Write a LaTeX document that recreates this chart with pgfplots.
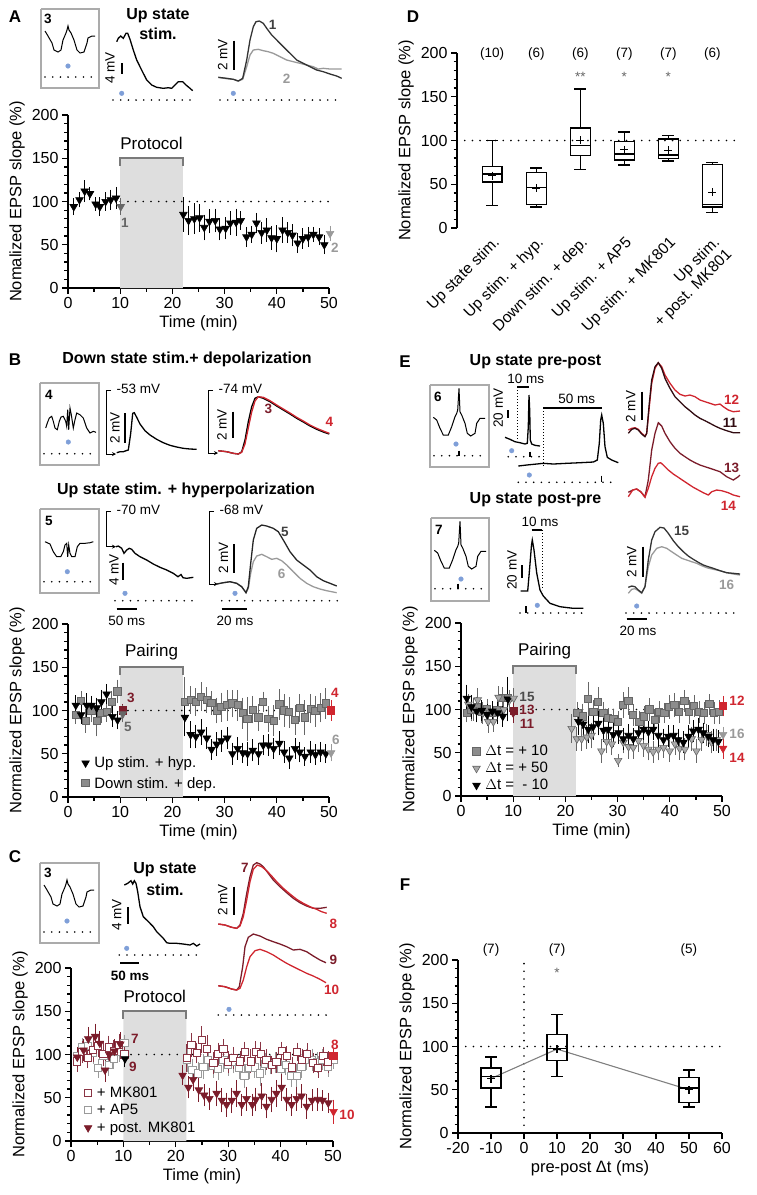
\documentclass[border=0pt]{standalone}
\usepackage{fontspec}
\setmainfont{Liberation Sans}
\usepackage{pgfplots}
\usepackage{pgfplotstable}
\pgfplotsset{compat=1.18}
\usepgfplotslibrary{statistics}
\usetikzlibrary{arrows.meta}

\definecolor{dred}{HTML}{7B1C2A}
\definecolor{lred}{HTML}{D0262F}
\definecolor{mkred}{HTML}{8A3444}
\definecolor{mgray}{HTML}{666666}
\definecolor{lgray}{HTML}{9A9A9A}
\definecolor{sqgray}{HTML}{8C8C8C}
\definecolor{trgray}{HTML}{AAAAAA}
\definecolor{shade}{HTML}{DEDEDE}
\definecolor{brk}{HTML}{7A7A7A}
\definecolor{dotblue}{HTML}{7F9FD8}
\definecolor{boxgray}{HTML}{ABABAB}

\newcommand\ftick{\fontsize{16}{18}\selectfont}
\newcommand\flab{\fontsize{16.5}{19}\selectfont}
\newcommand\fleg{\fontsize{15}{17}\selectfont}
\newcommand\fsm{\fontsize{13.5}{15}\selectfont}
\newcommand\fnum{\fontsize{13.5}{15}\selectfont\bfseries}
\newcommand\fttl{\fontsize{16}{19}\selectfont\bfseries}
\newcommand\fprot{\fontsize{17}{19}\selectfont}
\newcommand\fpan{\fontsize{17}{19}\selectfont\bfseries}

\pgfplotsset{
  base/.style={scale only axis, clip=false,
    axis x line*=bottom, axis y line*=left,
    axis line style={-, line width=1.6pt},
    tick align=outside, major tick length=6pt, minor tick length=3.5pt,
    every tick/.style={black, line width=1.3pt},
    tick label style={font=\ftick}, label style={font=\flab},
    /pgf/number format/assume math mode=true,
    ymin=0, ymax=200, ytick={0,50,...,200}, minor ytick={10,20,...,190}},
  tc/.style={base, width=261pt, height=173pt, xmin=0, xmax=50,
    xtick={0,10,...,50}, minor xtick={5,15,...,45}, xlabel={Time (min)},
    legend style={draw=none, fill=none, font=\fleg, inner sep=0pt, row sep=0pt,
      /tikz/every odd column/.append style={column sep=3pt}},
    legend cell align=left},
  eb/.style={/pgfplots/error bars/y dir=both, /pgfplots/error bars/y explicit,
    /pgfplots/error bars/error bar style={line width=1pt, color=#1},
    /pgfplots/error bars/error mark options={mark size=3.3pt, line width=1pt, color=#1}},
  tri/.style 2 args={only marks, mark=triangle*, mark size=4.4pt,
    mark options={rotate=180, fill=#1, draw=#2, line width=0.6pt}, color=#2, eb=#2},
  sq/.style 2 args={only marks, mark=square*, mark size=3.6pt,
    mark options={fill=#1, draw=#2, line width=1pt}, color=#2, eb=#2},
  ltri/.style 2 args={only marks, mark=triangle*, mark size=4.4pt,
    mark options={rotate=180, fill=#1, draw=#2, line width=0.6pt}},
  lsq/.style 2 args={only marks, mark=square*, mark size=3.6pt,
    mark options={fill=#1, draw=#2, line width=1pt}},
  dotline/.style={black, line width=1.8pt, dash pattern=on 0pt off 7.7pt, line cap=round},
  bdot/.style={only marks, mark=*, mark size=2.3pt, color=dotblue},
  tr/.style={line width=1.3pt, #1},
  bar/.style={black, line width=2pt},
  bx/.style={boxgray, line width=1.5pt},
  bp/.style={black, line width=1.3pt, boxplot/draw direction=y},
}

% ---------- data ----------
\pgfplotstableread{
t v e
1.1 94 6
2.2 102 5
3.2 112 9
4.2 109 4
5.3 97 4
6.1 94 7
7.2 100 7
8.2 102 8
9.2 104 9
22.1 85 16
23.1 78 13
24.2 80 14
25.2 81 12
26.1 70 11
27.1 77 10
28.2 78 10
29.1 68 9
30.2 69 9
31.1 75 10
32.2 76 12
33.1 78 7
34.2 59 8
35.2 62 6
36.1 75 8
37.1 64 9
38.1 67 10
39.0 58 10
40.0 57 12
41.1 67 11
42.1 64 8
43.0 61 9
44.0 52 8
45.0 57 8
46.0 59 8
47.0 62 5
48.1 59 6
49.1 50 7
}\dataA

\pgfplotstableread{
t v e
1.5 106 8
2.5 95 7
3.6 106 10
4.5 106 7
5.5 103 8
6.4 110 10
7.4 119 8
8.5 93 8
9.5 89 7
22.4 92 18
23.5 72 12
24.5 70 10
25.5 75 11
26.6 68 9
27.5 55 8
28.5 61 10
29.4 65 9
30.5 68 9
31.5 50 9
32.5 56 9
33.5 51 8
34.4 50 10
35.4 54 9
36.5 50 9
37.4 60 8
38.4 60 9
39.4 56 8
40.5 62 10
41.4 52 9
42.4 45 9
43.5 56 8
44.4 52 8
45.4 47 7
46.5 52 9
47.4 49 8
48.4 52 8
49.4 50 7
}\dataBhyp

\pgfplotstableread{
t v e
1.5 95 7
2.5 111 8
3.4 88 10
4.5 99 9
5.5 88 14
6.4 97 8
7.4 98 7
8.4 110 9
9.5 122 10
22.4 110 25
23.5 112 12
24.5 110 12
25.5 116 13
26.6 112 11
27.5 109 10
28.5 100 11
29.4 104 13
30.5 106 14
31.5 108 12
32.5 106 14
33.5 97 14
34.4 90 22
35.4 101 12
36.5 92 12
37.4 110 8
38.4 90 11
39.4 88 14
40.5 107 14
41.4 100 15
42.4 98 14
43.5 89 13
44.4 103 12
45.4 92 16
46.5 102 13
47.4 99 14
48.4 103 13
49.4 108 14
}\dataBdep

\pgfplotstableread{
t v e
1.2 92 8
2.2 103 9
3.2 96 8
4.2 105 10
5.2 110 9
6.2 101 11
7.2 108 10
8.2 104 9
9.2 111 9
22.1 96 12
23.0 111 10
24.0 102 8
25.0 117 12
26.0 106 13
27.2 90 9
28.1 101 9
29.1 106 8
30.0 91 9
31.0 96 9
32.3 92 8
33.2 103 8
34.3 92 10
35.3 103 9
36.2 101 10
37.3 94 8
38.3 88 7
39.2 91 8
40.2 104 7
41.2 98 8
42.2 85 8
43.2 103 7
44.1 94 9
45.1 101 8
46.2 90 8
47.2 84 7
48.2 98 7
49.1 91 9
}\dataCmk

\pgfplotstableread{
t v e
1.2 98 6
2.2 108 7
3.2 110 8
4.2 102 9
5.2 84 7
6.2 98 8
7.2 88 9
8.2 95 8
9.2 103 8
10.2 113 6
22.2 94 10
23.2 82 9
24.3 78 10
25.3 86 11
26.2 94 9
27.2 87 10
28.1 83 9
29.1 94 10
30.0 88 9
31.0 91 9
32.1 85 10
33.1 75 10
34.0 84 9
35.1 85 8
36.1 78 11
37.1 89 9
38.1 89 8
39.1 91 8
40.1 83 9
41.0 88 8
42.0 75 9
43.1 75 10
44.0 86 9
45.0 94 8
46.0 94 9
47.0 91 8
48.0 94 8
49.1 86 8
50.1 94 7
}\dataCap

\pgfplotstableread{
t v e
1.2 97 8
2.4 105 9
3.3 118 10
4.6 121 11
5.5 113 10
6.5 82 10
7.3 100 9
8.3 104 10
9.4 112 10
21.3 76 8
22.4 62 9
23.3 71 9
24.4 59 10
25.4 53 9
26.4 49 9
27.8 55 11
28.8 47 10
29.7 42 10
30.7 47 11
31.6 55 12
32.6 42 9
33.5 49 10
34.6 42 9
35.3 48 10
36.4 52 11
37.3 40 10
38.3 48 11
39.2 55 12
40.2 62 12
41.2 48 10
42.1 42 9
43.1 49 10
44.0 52 10
45.0 40 11
46.0 47 9
47.1 48 9
48.0 47 8
49.1 44 8
}\dataCpost

\pgfplotstableread{
t v e
1.1 96 7
2.0 100 10
3.0 103 8
4.0 97 9
5.0 100 8
6.0 96 7
7.0 99 8
8.0 113 9
9.0 113 8
22.3 96 9
23.3 92 11
24.4 112 16
25.4 97 10
26.3 109 13
27.3 96 9
28.2 90 8
29.2 89 8
30.1 86 8
31.1 105 11
32.1 110 12
33.0 94 9
34.2 86 9
35.1 92 8
36.1 100 9
37.1 88 9
38.0 97 9
39.0 96 8
39.9 103 10
40.9 105 10
41.8 97 9
42.8 110 9
43.7 97 10
44.7 104 9
45.6 97 9
46.6 96 9
47.6 106 8
48.5 96 9
49.5 97 10
}\dataEten

\pgfplotstableread{
t v e
1.4 106 8
2.3 100 9
3.2 111 10
4.2 96 9
5.2 86 9
6.2 86 8
7.2 114 9
8.2 100 8
9.2 110 9
21.2 78 13
22.2 66 10
23.1 66 10
24.1 68 10
25.0 70 11
26.9 52 10
27.9 63 10
28.9 60 9
30.1 41 4
31.1 62 9
32.1 57 10
33.0 56 9
34.0 64 9
35.0 58 9
35.9 54 9
36.8 51 9
37.8 54 9
38.8 56 8
40.0 52 9
41.0 60 9
41.9 55 9
42.9 54 9
44.2 66 10
45.1 52 10
46.1 65 9
47.1 71 9
48.0 62 9
49.0 65 9
}\dataEfifty

\pgfplotstableread{
t v e
1.1 113 12
2.0 103 10
3.0 98 9
4.0 99 8
5.0 94 9
6.0 98 8
7.0 96 9
8.0 92 8
9.0 112 22
22.5 86 12
23.4 83 10
24.4 77 12
25.3 80 11
26.3 84 10
27.3 76 10
28.2 77 9
29.2 71 10
30.2 73 9
31.1 66 9
32.1 70 9
33.0 66 9
34.0 73 10
35.0 77 9
35.9 74 9
36.8 77 9
37.8 70 9
38.8 65 9
39.7 69 9
40.7 70 8
41.6 65 9
42.6 62 9
43.6 69 9
44.5 75 9
45.5 77 9
46.4 73 8
47.4 69 9
48.3 65 9
49.3 63 9
}\dataEminus

% inset waveforms (pixels, relative to the inset box)
\pgfplotstableread{
x y
4 22
7 27
11 34
13 41
17 43
20 41
22 31
25 24
26 21
27 17
28 21
30 24
33 31
36 41
39 44
43 43
46 34
47 29
51 27
54 27
}\wUp

\pgfplotstableread{
x y
3.3 32.3
6.7 35
10 43.3
13.3 50
18.3 50
21.7 41.7
25 31.7
26.7 28.3
27.7 25
29 3.3
30 26.7
31.7 30
35 38.3
37.3 48.3
40.7 51
45 48.3
46.7 38.3
50 33.3
55 33.3
}\wSpike

\pgfplotstableread{
x y
5.7 45
7.3 40
9.3 35
11.7 33.3
13.3 38.3
15 45
17.3 46.7
19.3 38.3
21 34
23.3 33.3
25.7 38.3
26.7 43.3
27.7 26.7
28.7 46.7
30 25
31.3 31.7
33.3 45
35 36.7
36.7 30
40 31.7
43.3 35
46.7 45
50 50
53.3 48.3
56 49.3
}\wDep

\pgfplotstableread{
x y
5 32.7
10 35
13.3 42.7
16.7 47.7
20.7 47.7
23.3 42.7
25 36
26.7 34.3
27.7 47.7
28.7 36
30 44.3
31.7 47.7
35 47.7
37.3 37.7
40 34.3
45 34.3
50 33.7
53.3 32.7
}\wHyp

\begin{document}
\begin{tikzpicture}
\path[use as bounding box] (0pt,0pt) rectangle (757pt,-1195pt);

% ================= A =================
\begin{axis}[tc, at={(68pt,-288pt)}, anchor=south west,
  ylabel={Nomalized EPSP slope (\%)}]
\addplot[fill=shade, draw=none] coordinates {(10,0)(10,150)(22,150)(22,0)} \closedcycle;
\addplot[brk, line width=2pt] coordinates {(10,141)(10,150)(22,150)(22,141)};
\addplot[dotline] coordinates {(10,100)(50,100)};
\node[font=\fprot] at (axis cs:16,167) {Protocol};
\addplot[tri={black}{black}] table[x=t, y=v, y error=e]{\dataA};
\addplot[tri={mgray}{mgray}] coordinates {(10.1,94) +- (0,6)};
\addplot[tri={lgray}{lgray}] coordinates {(50.2,63) +- (0,5)};
\end{axis}

% ================= B =================
\begin{axis}[tc, at={(68pt,-797pt)}, anchor=south west,
  ylabel={Normalized EPSP slope (\%)},
  legend style={at={(axis cs:2.6,49)}, anchor=north west, row sep=4pt}]
\addlegendimage{ltri={black}{black}}
\addlegendentry{Up stim. + hyp.}
\addlegendimage{lsq={sqgray}{mgray}}
\addlegendentry{Down stim. + dep.}
\addplot[fill=shade, draw=none, forget plot] coordinates {(10,0)(10,150)(22,150)(22,0)} \closedcycle;
\addplot[brk, line width=2pt, forget plot] coordinates {(10,141)(10,150)(22,150)(22,141)};
\addplot[dotline, forget plot] coordinates {(10,100)(50,100)};
\node[font=\fprot] at (axis cs:16,167) {Pairing};
\addplot[sq={sqgray}{mgray}, forget plot] table[x=t, y=v, y error=e]{\dataBdep};
\addplot[tri={black}{black}, forget plot] table[x=t, y=v, y error=e]{\dataBhyp};
\addplot[sq={dred}{dred}, forget plot] coordinates {(10.5,100) +- (0,4)};
\addplot[tri={mgray}{mgray}, forget plot] coordinates {(10.5,96) +- (0,6)};
\addplot[sq={lred}{lred}, forget plot] coordinates {(50.4,100) +- (0,8)};
\addplot[tri={lgray}{lgray}, forget plot] coordinates {(50.4,51) +- (0,6)};
\end{axis}

% ================= C =================
\begin{axis}[tc, at={(71pt,-1141pt)}, anchor=south west, width=262pt,
  ylabel={Normalized EPSP slope (\%)},
  legend style={at={(axis cs:2.5,65)}, anchor=north west, row sep=1.5pt}]
\addlegendimage{lsq={white}{mkred}}
\addlegendentry{+ MK801}
\addlegendimage{lsq={white}{lgray}}
\addlegendentry{+ AP5}
\addlegendimage{ltri={dred}{dred}}
\addlegendentry{+ post. MK801}
\addplot[fill=shade, draw=none, forget plot] coordinates {(10,0)(10,150)(22,150)(22,0)} \closedcycle;
\addplot[brk, line width=2pt, forget plot] coordinates {(10,141)(10,150)(22,150)(22,141)};
\addplot[dotline, forget plot] coordinates {(10,100)(50,100)};
\node[font=\fprot] at (axis cs:16,167) {Protocol};
\addplot[sq={white}{lgray}, forget plot] table[x=t, y=v, y error=e]{\dataCap};
\addplot[sq={white}{mkred}, forget plot] table[x=t, y=v, y error=e]{\dataCmk};
\addplot[tri={dred}{dred}, forget plot] table[x=t, y=v, y error=e]{\dataCpost};
\addplot[sq={white}{mkred}, forget plot] coordinates {(10.2,100) +- (0,6)};
\addplot[tri={black}{black}, forget plot] coordinates {(10.3,95) +- (0,6)};
\addplot[sq={lred}{lred}, forget plot] coordinates {(50.1,98) +- (0,4)};
\addplot[tri={lred}{lred}, forget plot] coordinates {(50.1,34) +- (0,10)};
\end{axis}

% ================= D =================
\begin{axis}[base, at={(457pt,-228pt)}, anchor=south west, width=284pt, height=175pt,
  xmin=0.2, xmax=6.65, xtick={1,...,6},
  xticklabels={Up state stim., Up stim. + hyp., Down stim. + dep., Up stim. + AP5, Up stim. + MK801, {Up stim.\\+ post. MK801}},
  xticklabel style={rotate=45, anchor=north east, align=right, font=\fontsize{15.5}{17}\selectfont, inner sep=1pt},
  x axis line style={draw=none}, major x tick style={draw=none},
  ylabel={Nomalized EPSP slope (\%)}]
\addplot[dotline] coordinates {(0.2,100)(6.65,100)};
\addplot[bp, boxplot prepared={draw position=1, lower whisker=26, lower quartile=52.6, median=61.7, upper quartile=70.5, upper whisker=100, box extend=0.45, whisker extend=0.27}] coordinates {};
\addplot[bp, boxplot prepared={draw position=2, lower whisker=24, lower quartile=26.7, median=46.5, upper quartile=63.6, upper whisker=68.6, box extend=0.45, whisker extend=0.27}] coordinates {};
\addplot[bp, boxplot prepared={draw position=3, lower whisker=66.7, lower quartile=82.7, median=94.5, upper quartile=114.3, upper whisker=158.9, box extend=0.45, whisker extend=0.27}] coordinates {};
\addplot[bp, boxplot prepared={draw position=4, lower whisker=72, lower quartile=77.7, median=84.6, upper quartile=99, upper whisker=109.7, box extend=0.45, whisker extend=0.27}] coordinates {};
\addplot[bp, boxplot prepared={draw position=5, lower whisker=76.6, lower quartile=79.6, median=83.4, upper quartile=101.7, upper whisker=105.5, box extend=0.45, whisker extend=0.27}] coordinates {};
\addplot[bp, boxplot prepared={draw position=6, lower whisker=17.9, lower quartile=24, median=27, upper quartile=72.8, upper whisker=75, box extend=0.45, whisker extend=0.27}] coordinates {};
\addplot[only marks, mark=+, mark size=4pt, black, line width=1.2pt] coordinates {(1,59.8)(2,45.7)(3,100.2)(4,89.5)(5,88.8)(6,40.8)};
\node[font=\fsm] at (axis cs:1,199) {(10)};
\node[font=\fsm] at (axis cs:2,199) {(6)};
\node[font=\fsm] at (axis cs:3,199) {(6)};
\node[font=\fsm] at (axis cs:4,199) {(7)};
\node[font=\fsm] at (axis cs:5,199) {(7)};
\node[font=\fsm] at (axis cs:6,199) {(6)};
\node[font=\fsm, mgray] at (axis cs:3,173) {**};
\node[font=\fsm, mgray] at (axis cs:4,173) {*};
\node[font=\fsm, mgray] at (axis cs:5,173) {*};
\end{axis}

% ================= E =================
\begin{axis}[tc, at={(461pt,-796pt)}, anchor=south west,
  ylabel={Normalized EPSP slope (\%)},
  legend style={at={(axis cs:2.2,61)}, anchor=north west, row sep=1pt}]
\addlegendimage{lsq={sqgray}{mgray}}
\addlegendentry{$\Delta$t = + 10}
\addlegendimage{ltri={trgray}{mgray}}
\addlegendentry{$\Delta$t = + 50}
\addlegendimage{ltri={black}{black}}
\addlegendentry{$\Delta$t =\ \ - 10}
\addplot[fill=shade, draw=none, forget plot] coordinates {(10,0)(10,150)(22,150)(22,0)} \closedcycle;
\addplot[brk, line width=2pt, forget plot] coordinates {(10,141)(10,150)(22,150)(22,141)};
\addplot[dotline, forget plot] coordinates {(10,100)(50,100)};
\node[font=\fprot] at (axis cs:16,167) {Pairing};
\addplot[sq={sqgray}{mgray}, forget plot] table[x=t, y=v, y error=e]{\dataEten};
\addplot[tri={trgray}{mgray}, forget plot] table[x=t, y=v, y error=e]{\dataEfifty};
\addplot[tri={black}{black}, forget plot] table[x=t, y=v, y error=e]{\dataEminus};
\addplot[tri={trgray}{mgray}, forget plot] coordinates {(10.1,113) +- (0,8)};
\addplot[tri={dred}{dred}, forget plot] coordinates {(10,96) +- (0,8)};
\addplot[sq={dred}{dred}, forget plot] coordinates {(10.1,98) +- (0,8)};
\addplot[tri={lgray}{lgray}, forget plot] coordinates {(50.2,71) +- (0,5)};
\addplot[sq={lred}{lred}, forget plot] coordinates {(50.2,104) +- (0,8)};
\addplot[tri={lred}{lred}, forget plot] coordinates {(50.2,55) +- (0,8)};
\end{axis}

% ================= F =================
\begin{axis}[base, at={(458pt,-1133pt)}, anchor=south west, width=264pt, height=173pt,
  xmin=-20, xmax=60, xtick={-20,-10,...,60},
  xlabel={pre-post Δt (ms)}, ylabel={Normalized EPSP slope (\%)}]
\addplot[dotline] coordinates {(-20,100)(60,100)};
\addplot[dotline] coordinates {(0,0)(0,200)};
\addplot[gray, line width=1.1pt] coordinates {(-10,63)(10,97)(50,50)};
\addplot[bp, boxplot prepared={draw position=-10, lower whisker=30, lower quartile=52, median=65, upper quartile=75, upper whisker=88, box extend=6, whisker extend=3.6}] coordinates {};
\addplot[bp, boxplot prepared={draw position=10, lower whisker=65, lower quartile=84, median=98, upper quartile=114, upper whisker=137, box extend=6, whisker extend=3.6}] coordinates {};
\addplot[bp, boxplot prepared={draw position=50, lower whisker=30, lower quartile=35, median=52, upper quartile=64, upper whisker=73, box extend=6, whisker extend=3.6}] coordinates {};
\addplot[only marks, mark=+, mark size=4pt, black, line width=1.2pt] coordinates {(-10,63)(10,97)(50,50)};
\node[font=\fsm] at (axis cs:-10,212) {(7)};
\node[font=\fsm] at (axis cs:10,212) {(7)};
\node[font=\fsm] at (axis cs:50,212) {(5)};
\node[font=\fsm, mgray] at (axis cs:10,185) {*};
\end{axis}

% ================= overlay: traces and annotations (pixel space) =================
\begin{axis}[at={(0pt,0pt)}, anchor=north west, scale only axis, width=757pt, height=1195pt,
  xmin=0, xmax=757, ymin=0, ymax=1195, y dir=reverse, hide axis, clip=false]
% panel letters
\node[font=\fpan] at (axis cs:15,17) {A};
\node[font=\fpan] at (axis cs:413,17) {D};
\node[font=\fpan] at (axis cs:15,360) {B};
\node[font=\fpan] at (axis cs:405,362) {E};
\node[font=\fpan] at (axis cs:15,857) {C};
\node[font=\fpan] at (axis cs:405,885) {F};

% ----- A traces -----
\addplot[bx] coordinates {(41,9)(99,9)(99,88)(41,88)(41,9)};
\node[font=\fnum] at (axis cs:48,19) {3};
\addplot[tr=black, line width=1pt] table[x expr=\thisrow{x}+41, y expr=\thisrow{y}+9]{\wUp};
\addplot[dotline] coordinates {(45,77)(93,77)};
\addplot[bdot] coordinates {(68,66)};
\node[font=\fttl] at (axis cs:158,16) {Up state};
\node[font=\fttl] at (axis cs:158,34) {stim.};
\addplot[tr=black] coordinates {(116.7,41.7)(118.3,38.3)(120.7,36)(123.3,38.3)(126,33.3)(127.7,33.3)(130,39.3)(133.3,50)(136.7,60)(140,66.7)(143.3,73.3)(146.7,80)(151.7,85)(156.7,87.3)(163.3,88.3)(168.3,87.7)(171.7,88.3)(175,85)(178.3,81.7)(182.7,81.7)(186,85)(190,88.3)(192.7,90.7)};
\addplot[bar] coordinates {(121.7,63.3)(121.7,74)};
\node[font=\fsm, rotate=90] at (axis cs:110,68) {4 mV};
\addplot[bdot] coordinates {(121.7,93.3)};
\addplot[dotline] coordinates {(113,100)(193,100)};
\addplot[tr=lgray] coordinates {(218.3,77.3)(226.7,78.7)(233.3,79.3)(238.3,81)(242.7,79.3)(246.7,66.7)(250,55)(253.3,50)(258.3,49.3)(263.3,50.7)(268.3,51.7)(273.3,53.3)(280,56.7)(286.7,60)(293.3,61.7)(300,63.3)(306.7,65)(313.3,66.7)(318.3,69)(323.3,68.3)(330,69)(341.7,69)};
\addplot[tr={black!80}] coordinates {(218.3,77.3)(226.7,78.3)(233.3,79.3)(238.3,81)(242.7,78.3)(246.7,60)(250,40)(253.3,26.7)(256,21.7)(259.3,21)(263.3,23.3)(266.7,28.3)(271.7,35)(276.7,40)(283.3,46.7)(290,53.3)(296.7,60)(303.3,63.3)(310,66.7)(316.7,70)(323.3,71.7)(330,74)(336.7,76)(341.7,78.3)};
\addplot[bar] coordinates {(234,40.7)(234,70)};
\node[font=\fsm, rotate=90] at (axis cs:222.7,55) {2 mV};
\addplot[bdot] coordinates {(233.3,93.3)};
\addplot[dotline] coordinates {(220,100)(338,100)};
\node[font=\fnum, black!75] at (axis cs:272.7,25) {1};
\node[font=\fnum, lgray] at (axis cs:286.7,79) {2};
\node[font=\fnum, mgray] at (axis cs:125,223) {1};
\node[font=\fnum, lgray] at (axis cs:335,248) {2};

% ----- B traces -----
\node[font=\fttl] at (axis cs:187,359) {Down state stim.+ depolarization};
\addplot[bx] coordinates {(40,383)(99,383)(99,465)(40,465)(40,383)};
\node[font=\fnum] at (axis cs:49,395) {4};
\addplot[tr=black, line width=1pt] table[x expr=\thisrow{x}+40, y expr=\thisrow{y}+383]{\wDep};
\addplot[dotline] coordinates {(44,453.7)(93,453.7)};
\addplot[bdot] coordinates {(68.3,442)};
\addplot[black, line width=1pt, -{Stealth[length=4pt,width=4pt]}] coordinates {(111,390)(106,390)(106,454)(116,454)};
\node[font=\fsm, anchor=west] at (axis cs:113,389) {-53 mV};
\addplot[tr=black] coordinates {(116.7,452.7)(120,451.7)(123.3,451.7)(126,450.7)(128.3,450)(130.7,433.3)(132.7,413.3)(134.3,412.7)(136.7,417.3)(140,424)(145,430.7)(150,435)(156.7,439.3)(163.3,442.7)(170,445.3)(176.7,447)(183.3,448.3)(190,449)(196.7,449.3)};
\addplot[bar] coordinates {(125,413.3)(125,442.7)};
\node[font=\fsm, rotate=90] at (axis cs:115,428) {2 mV};
\addplot[black, line width=1pt, -{Stealth[length=4pt,width=4pt]}] coordinates {(213,390)(208.3,390)(208.3,453)(218,453)};
\node[font=\fsm, anchor=west] at (axis cs:215,389) {-74 mV};
\addplot[tr=black] coordinates {(218.3,450.7)(226.7,451.7)(233.3,453.3)(238.3,454)(241.7,451.7)(245,440)(248.3,421.7)(251.7,406.7)(255,398.3)(258.3,396.7)(263.3,398.3)(270,401.7)(276.7,406)(283.3,410)(290,414)(296.7,418.3)(303.3,422)(310,426)(316.7,429.3)(323.3,432)(329.3,434)};
\addplot[tr=lred] coordinates {(218.3,450.7)(226.7,451.7)(233.3,453.3)(238.3,454)(241.7,452.3)(245,444)(248.3,428)(251.7,412)(255,401)(258.3,396.7)(263.3,397.3)(270,400.7)(276.7,405)(283.3,409)(290,413)(296.7,417.3)(303.3,421)(310,425)(316.7,428.3)(323.3,431)(329.3,433.3)};
\addplot[bar] coordinates {(232.7,411.7)(232.7,438.3)};
\node[font=\fsm, rotate=90] at (axis cs:222,425) {2 mV};
\node[font=\fnum, dred] at (axis cs:268.3,409.3) {3};
\node[font=\fnum, lred] at (axis cs:329.3,421.7) {4};

\node[font=\fttl] at (axis cs:186,490) {Up state stim. + hyperpolarization};
\addplot[bx] coordinates {(40,509)(99,509)(99,593)(40,593)(40,509)};
\node[font=\fnum] at (axis cs:49,521) {5};
\addplot[tr=black, line width=1pt] table[x expr=\thisrow{x}+40, y expr=\thisrow{y}+509]{\wHyp};
\addplot[dotline] coordinates {(44,581.7)(93,581.7)};
\addplot[bdot] coordinates {(67.3,571.7)};
\addplot[black, line width=1pt, -{Stealth[length=4pt,width=4pt]}] coordinates {(111,511)(106,511)(106,546.7)(116,546.7)};
\node[font=\fsm, anchor=west] at (axis cs:113,510) {-70 mV};
\addplot[tr=black] coordinates {(116,546.7)(118.3,546)(121.7,548.3)(124,553.3)(126.7,550)(129.3,548.3)(131.7,549.3)(135,553.3)(140,556.7)(146.7,560)(153.3,564)(160,567.3)(166.7,570)(173.3,573.3)(178,576.7)(181,574.5)(183,577.7)(186.7,578.3)(193.3,577.3)};
\addplot[bar] coordinates {(122.7,562.7)(122.7,580)};
\node[font=\fsm, rotate=90] at (axis cs:114,570) {4 mV};
\addplot[bdot] coordinates {(125,593.3)};
\addplot[dotline] coordinates {(115,600.7)(195,600.7)};
\addplot[bar] coordinates {(116.7,609.3)(136.7,609.3)};
\node[font=\fsm] at (axis cs:126.7,621) {50 ms};
\addplot[black, line width=1pt, -{Stealth[length=4pt,width=4pt]}] coordinates {(214,511)(209.3,511)(209.3,584)(218,584)};
\node[font=\fsm, anchor=west] at (axis cs:216,510) {-68 mV};
\addplot[tr=lgray] coordinates {(216.7,584)(223.3,582.7)(230,581.7)(236.7,583.3)(241.7,586.7)(246,592.7)(248.3,588.3)(250.7,573.3)(253.3,561.7)(256.7,556)(261.7,554.3)(266.7,556.7)(271.7,559.3)(276.7,558.3)(281.7,560.7)(286.7,565)(293.3,571.7)(300,578.3)(306.7,583.3)(313.3,586.7)(320,589)(326.7,590.7)(336.7,592.7)};
\addplot[tr={black!85}] coordinates {(216.7,584)(223.3,582.7)(230,581.7)(236.7,583.3)(241.7,586.7)(246,592.7)(248.3,586.7)(250.7,563.3)(253.3,540)(256.7,528.3)(261.7,525)(266.7,526)(273.3,528.3)(278.3,531.7)(283.3,540)(290,551.7)(296.7,560)(303.3,565)(310,570)(316.7,576.7)(323.3,580.7)(330,583.3)(336.7,586)};
\addplot[bar] coordinates {(234.3,544)(234.3,573.3)};
\node[font=\fsm, rotate=90] at (axis cs:223.3,558) {2 mV};
\node[font=\fnum, black!75] at (axis cs:285,531.7) {5};
\node[font=\fnum, lgray] at (axis cs:281.7,574) {6};
\addplot[bdot] coordinates {(235,593.3)};
\addplot[dotline] coordinates {(221.7,600.7)(338.3,600.7)};
\addplot[bar] coordinates {(221.7,609.3)(246.7,609.3)};
\node[font=\fsm] at (axis cs:235,621) {20 ms};
\node[font=\fnum, dred] at (axis cs:131,698) {3};
\node[font=\fnum, mgray] at (axis cs:128,727) {5};
\node[font=\fnum, lred] at (axis cs:335,693) {4};
\node[font=\fnum, lgray] at (axis cs:336,740) {6};

% ----- C traces -----
\addplot[bx] coordinates {(40,863)(99,863)(99,943)(40,943)(40,863)};
\node[font=\fnum] at (axis cs:48,873) {3};
\addplot[tr=black, line width=1pt] table[x expr=\thisrow{x}+40, y expr=\thisrow{y}+863]{\wUp};
\addplot[dotline] coordinates {(44,932)(92,932)};
\addplot[bdot] coordinates {(67,921)};
\node[font=\fttl] at (axis cs:165,869.3) {Up state};
\node[font=\fttl] at (axis cs:165,890) {stim.};
\addplot[tr=black] coordinates {(124.3,885)(127.7,883.3)(131,880.7)(132.7,884)(134.3,880.7)(136,883.3)(137.7,891.7)(140,906.7)(143.3,916.7)(146.7,920)(150,923.3)(153.3,926.7)(156.7,931.7)(160,935)(163.3,938.3)(166.7,942.7)(170,943.3)(176.7,943.3)(183.3,944)(190,945)(193.3,943.3)(196.7,946)(200,944)};
\addplot[bar] coordinates {(128.3,907.3)(128.3,924)};
\node[font=\fsm, rotate=90] at (axis cs:116.7,915) {4 mV};
\addplot[bdot] coordinates {(126.7,948.3)};
\addplot[dotline] coordinates {(119.3,955)(199.3,955)};
\addplot[bar] coordinates {(120,963.3)(139.3,963.3)};
\node[font=\fnum] at (axis cs:130,976) {50 ms};
\addplot[tr=dred] coordinates {(218.3,924)(225,925)(231.7,927.3)(236.7,928.3)(240,925)(243.3,913.3)(246.7,893.3)(250,876.7)(253.3,865)(256.7,862.7)(260,864)(263.3,866.7)(268.3,873.3)(273.3,880)(280,886.7)(286.7,892.7)(293.3,898.3)(300,902.7)(306.7,906)(313.3,908.3)(320,908.3)(326.7,907.3)};
\addplot[tr=lred] coordinates {(218.3,924)(225,925)(231.7,927.3)(236.7,928.3)(240,926)(243.3,916.7)(246.7,900)(250,881.7)(253.3,869.3)(257.3,865)(261.7,866.7)(266.7,870.7)(271.7,876)(276.7,881.7)(283.3,888.3)(290,894)(296.7,899.3)(303.3,903.3)(310,906.7)(316.7,909.3)(321.7,911.7)(326.7,913.3)};
\addplot[bar] coordinates {(234.3,886.7)(234.3,915)};
\node[font=\fsm, rotate=90] at (axis cs:222.7,900) {2 mV};
\node[font=\fnum, dred] at (axis cs:245,868.3) {7};
\node[font=\fnum, lred] at (axis cs:333.3,924) {8};
\addplot[tr=dred] coordinates {(218.3,985.7)(225,986.7)(231.7,989)(236.7,990)(239.3,986.7)(242.7,966.7)(245,946.7)(248.3,937.3)(253.3,934)(260,936)(266.7,939.3)(273.3,941.7)(280,944)(286.7,946.7)(293.3,950)(300,949.3)(306.7,951.7)(313.3,956)(320,960)(326,962.7)};
\addplot[tr=lred] coordinates {(218.3,985.7)(225,986.7)(231.7,989)(236.7,990)(240,988.3)(243.3,980)(246.7,966.7)(250,956.7)(255,950.7)(260,949.3)(266.7,951.7)(273.3,955)(280,959.3)(286.7,963.3)(293.3,966.7)(300,970)(306.7,973.3)(313.3,976)(320,979.3)(326,982.7)};
\node[font=\fnum, dred] at (axis cs:333.3,960) {9};
\node[font=\fnum, lred] at (axis cs:331.7,990) {10};
\addplot[bdot] coordinates {(229,1009.3)};
\addplot[dotline] coordinates {(218.3,1015)(328.3,1015)};
\node[font=\fnum, dred] at (axis cs:135,1039) {7};
\node[font=\fnum, dred] at (axis cs:133,1067) {9};
\node[font=\fnum, lred] at (axis cs:335,1045) {8};
\node[font=\fnum, lred] at (axis cs:347,1115) {10};

% ----- E traces -----
\node[font=\fttl] at (axis cs:535.5,362) {Up state pre-post};
\addplot[bx] coordinates {(430,385)(489,385)(489,467)(430,467)(430,385)};
\node[font=\fnum] at (axis cs:438,397) {6};
\addplot[tr=black, line width=1pt] table[x expr=\thisrow{x}+430, y expr=\thisrow{y}+385]{\wSpike};
\addplot[dotline] coordinates {(434,455.7)(485,455.7)};
\addplot[black, line width=1.5pt] coordinates {(459,450.7)(459,455.7)};
\addplot[bdot] coordinates {(456,444)};
\node[font=\fsm] at (axis cs:525.7,379) {10 ms};
\addplot[bar] coordinates {(517.3,387.3)(529,387.3)};
\addplot[black, line width=0.8pt, dash pattern=on 1pt off 2pt] coordinates {(517.3,387.3)(517.3,440)};
\addplot[black, line width=0.8pt, dash pattern=on 1pt off 2pt] coordinates {(543.3,408.3)(543.3,466.7)};
\addplot[bar] coordinates {(508.3,410)(508.3,418.3)};
\node[font=\fsm, rotate=90] at (axis cs:498.3,408) {20 mV};
\addplot[tr=black] coordinates {(505,437.3)(510,439.3)(515,441.7)(520,442.7)(525,444)(527.3,443.3)(528.3,426.7)(529,395)(529.7,410)(530.3,440)(531.7,444)(535,445.3)(540,446)};
\addplot[bdot] coordinates {(511.7,450.7)};
\addplot[dotline] coordinates {(508.3,456.7)(540,456.7)};
\addplot[black, line width=1.5pt] coordinates {(530,451.7)(530,456.7)};
\addplot[bar] coordinates {(543.3,408.3)(601.7,408.3)};
\node[font=\fsm] at (axis cs:576.7,399) {50 ms};
\addplot[tr=black] coordinates {(518.3,466)(526.7,465)(536.7,464)(543.3,463.3)(553.3,464)(566.7,463.3)(580,462.7)(593.3,462)(597.3,460)(599.3,443.3)(600.7,420)(601.7,415)(603.3,423.3)(605,446.7)(607.3,457.3)(611.7,460)(618.3,462.7)};
\addplot[bdot] coordinates {(529.3,475)};
\addplot[dotline] coordinates {(518.3,482.3)(616.7,482.3)};
\addplot[black, line width=1.5pt] coordinates {(601.7,475.5)(601.7,482.3)};
\addplot[tr=lred] coordinates {(628.3,430)(631.7,428.3)(635,427.7)(638.3,429.3)(641.7,433.3)(645,436)(646.7,433.3)(649.3,406.7)(651.7,383.3)(655,368.3)(658.3,362.7)(661.7,366.7)(665,375)(670,383.3)(675,390)(680,394.3)(685,396)(690,395)(695,396.7)(700,400)(705,401.7)(710,403.3)(715,405)(720,404)(723.3,406.7)(728.3,410)(733.3,411.7)(740,411)};
\addplot[tr={black!60!dred}] coordinates {(628.3,433.3)(631.7,429.3)(635,428.3)(638.3,430)(641.7,434)(645,436.7)(646.7,433.3)(649.3,403.3)(651.7,380)(655,366.7)(658.3,362.7)(661.7,368.3)(665,378.3)(670,388.3)(675,396.7)(680,401.7)(685,406.7)(690,410.7)(695,415)(700,418.3)(705,420.7)(710,423.3)(715,426)(720,428.3)(726.7,430.7)(733.3,432.7)(740,432.7)};
\addplot[bar] coordinates {(641.7,391.7)(641.7,420)};
\node[font=\fsm, rotate=90] at (axis cs:630.7,406.7) {2 mV};
\node[font=\fnum, lred] at (axis cs:731.7,400) {12};
\node[font=\fnum, black!60!dred] at (axis cs:730,422.7) {11};
\addplot[tr=dred] coordinates {(628.3,492.3)(632.7,490)(636.7,489)(640.7,491.7)(645,496.7)(648.3,480)(651.7,450)(655,433.3)(658.3,422.7)(661.7,426)(665,433.3)(670,441.7)(675,448.3)(680,453.3)(685,456.7)(690,460)(695,462.7)(700,465)(705,466.7)(710,468.3)(715,470)(720,471.7)(726.7,476.7)(733.3,480)(738.3,476.7)(740,475)};
\addplot[tr=lred] coordinates {(628.3,496.7)(632.7,490)(636.7,489)(640.7,491.7)(645,497.3)(648.3,488.3)(651.7,476.7)(655,468.3)(658.3,463.3)(660.7,462.7)(663.3,465)(668.3,470)(673.3,474)(678.3,477.3)(683.3,480.7)(688.3,484)(693.3,487.3)(698.3,490)(703.3,492.7)(708.3,495)(711.7,491.7)(716.7,490)(721.7,490.7)(728.3,492.7)(733.3,495)(740,496.7)};
\node[font=\fnum, dred] at (axis cs:731.7,467.7) {13};
\node[font=\fnum, lred] at (axis cs:728.3,506) {14};

\node[font=\fttl] at (axis cs:535.5,500) {Up state post-pre};
\addplot[bx] coordinates {(431,518)(489,518)(489,601)(431,601)(431,518)};
\node[font=\fnum] at (axis cs:439,530) {7};
\addplot[tr=black, line width=1pt] table[x expr=\thisrow{x}+431, y expr=\thisrow{y}+518]{\wSpike};
\addplot[dotline] coordinates {(435,588.7)(486,588.7)};
\addplot[black, line width=1.5pt] coordinates {(458,583.7)(458,588.7)};
\addplot[bdot] coordinates {(461,579)};
\node[font=\fsm] at (axis cs:540,522) {10 ms};
\addplot[bar] coordinates {(531.7,530)(541.7,530)};
\addplot[black, line width=0.8pt, dash pattern=on 1pt off 2pt] coordinates {(542.3,530)(542.3,590)};
\addplot[bar] coordinates {(521.7,565)(521.7,578.3)};
\node[font=\fsm, rotate=90] at (axis cs:512,570) {20 mV};
\addplot[tr=black] coordinates {(520.7,591)(527.7,591)(529.5,570)(531.5,545)(532.3,540)(534,550)(536.7,573)(540,590)(543.3,596)(550,603.3)(560,606.7)(573.3,608.3)(583.3,608.3)};
\addplot[bdot] coordinates {(537.3,605.3)};
\addplot[dotline] coordinates {(520,613)(583.3,613)};
\addplot[black, line width=1.5pt] coordinates {(526,606)(526,613)};
\addplot[tr=lgray] coordinates {(628.3,593.3)(631.7,589.3)(635,588.7)(638.3,590.7)(641.7,593.3)(645,586.7)(648.3,566.7)(651.7,555)(656.7,548.3)(661.7,546.7)(666.7,548.3)(671.7,551.7)(676.7,555)(681.7,558.3)(686.7,560)(691.7,561.7)(696.7,563.3)(701.7,565.7)(706.7,567.7)(713.3,569.3)(720,570.7)(726.7,572.7)(733.3,574)(740,575)};
\addplot[tr={black!80}] coordinates {(628.3,587.3)(631.7,586)(635,586.7)(638.3,590)(641.7,592.7)(645,586.7)(648.3,560)(651.7,540)(655,531.7)(660,527.3)(664,528)(668.3,533.3)(673.3,540.7)(678.3,546.7)(683.3,551.7)(688.3,556)(693.3,559.3)(698.3,562.3)(703.3,565)(708.3,566.7)(713.3,568.3)(720,570.7)(726.7,572.7)(733.3,573.3)(740,574)};
\addplot[bar] coordinates {(643.3,546.7)(643.3,576.7)};
\node[font=\fsm, rotate=90] at (axis cs:631.7,562) {2 mV};
\node[font=\fnum, black!75] at (axis cs:681.7,531) {15};
\node[font=\fnum, lgray] at (axis cs:726.7,585) {16};
\addplot[bdot] coordinates {(636.7,606)};
\addplot[dotline] coordinates {(626,613)(736.7,613)};
\addplot[bar] coordinates {(626.7,619.3)(646.7,619.3)};
\node[font=\fsm] at (axis cs:638,631.3) {20 ms};
\node[font=\fnum, black!70] at (axis cs:527,697) {15};
\node[font=\fnum, dred] at (axis cs:527,710) {13};
\node[font=\fnum, dred] at (axis cs:527,724) {11};
\node[font=\fnum, lred] at (axis cs:737,701) {12};
\node[font=\fnum, lgray] at (axis cs:737,734) {16};
\node[font=\fnum, lred] at (axis cs:737,758) {14};
\end{axis}
\end{tikzpicture}
\end{document}
